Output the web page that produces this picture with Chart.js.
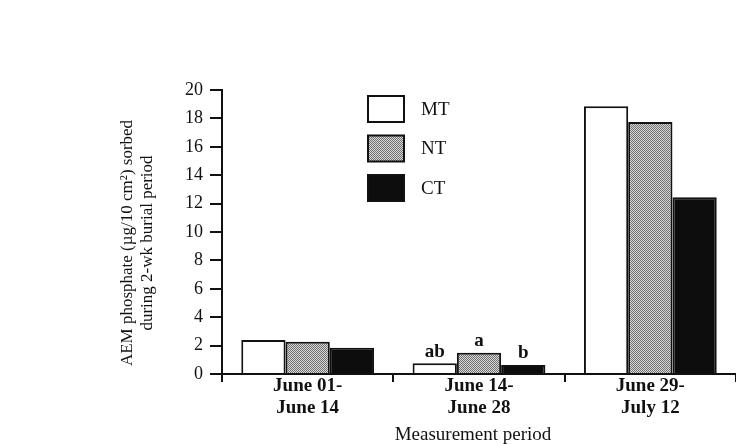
<!DOCTYPE html>
<html>
<head>
<meta charset="utf-8">
<script src="https://cdn.jsdelivr.net/npm/chart.js@4"></script>
<style>
  html, body { margin: 0; padding: 0; background: #fff; }
  #wrap { width: 736px; height: 444px; position: relative; }
</style>
</head>
<body>
<div id="wrap"><canvas id="phosphate"></canvas></div>
<script>
// measurement periods (two-line labels)
const periods = [
    ['June 01-', 'June 14'],
    ['June 14-', 'June 28'],
    ['June 29-', 'July 12']
];
const seriesNames = ['MT', 'NT', 'CT'];

// AEM phosphate, µg/10 cm2
const mtValues = [2.4, 0.75, 18.85];
const ntValues = [2.27, 1.5, 17.75];
const ctValues = [1.85, 0.63, 12.45];

// significance letters (only the second period)
const mtLetters = ['', 'ab', ''];
const ntLetters = ['', 'a', ''];
const ctLetters = ['', 'b', ''];

const yTicks = [0, 2, 4, 6, 8, 10, 12, 14, 16, 18, 20];
const yTitle = ['AEM phosphate (\u00b5g/10 cm\u00b2) sorbed', 'during 2-wk burial period'];
const xTitle = 'Measurement period';

const SERIF = "'Liberation Serif', 'Times New Roman', serif";

const ctx = document.getElementById('phosphate').getContext('2d');

// stippled gray fill for NT
const stipple = ctx.createPattern((() => {
    const c = document.createElement('canvas');
    c.width = 2; c.height = 2;
    const g = c.getContext('2d');
    g.fillStyle = '#d8d8d8';
    g.fillRect(0, 0, 2, 2);
    g.fillStyle = '#707070';
    g.fillRect(0, 0, 1, 1);
    g.fillRect(1, 1, 1, 1);
    return c;
})(), 'repeat');

// white background
const whiteBg = {
    id: 'whiteBg',
    beforeDraw(chart) {
        const { ctx, width, height } = chart;
        ctx.save();
        ctx.fillStyle = '#fff';
        ctx.fillRect(0, 0, width, height);
        ctx.restore();
    }
};

// axis titles, placed like the scan
const axisTitles = {
    id: 'axisTitles',
    afterDraw(chart) {
        const { ctx } = chart;
        ctx.save();
        ctx.fillStyle = '#111';
        ctx.textAlign = 'center';
        ctx.textBaseline = 'middle';
        ctx.font = '17px ' + SERIF;
        yTitle.forEach((line, i) => {
            ctx.save();
            ctx.translate(128 + i * 19.5, 243);
            ctx.rotate(-Math.PI / 2);
            ctx.fillText(line, 0, 0);
            ctx.restore();
        });
        ctx.font = '19px ' + SERIF;
        ctx.fillText(xTitle, 473, 435);
        ctx.restore();
    }
};

// legend boxes drawn inside the plot
const boxLegend = {
    id: 'boxLegend',
    afterDraw(chart) {
        const { ctx } = chart;
        ctx.save();
        chart.data.datasets.forEach((ds, i) => {
            const x = 368, y = 96 + i * 39.5, w = 36, h = 26;
            ctx.fillStyle = ds.backgroundColor;
            ctx.fillRect(x, y, w, h);
            ctx.lineWidth = 2;
            ctx.strokeStyle = '#111';
            ctx.strokeRect(x, y, w, h);
            ctx.fillStyle = '#111';
            ctx.font = '19px ' + SERIF;
            ctx.textBaseline = 'middle';
            ctx.fillText(ds.label, 421, y + h / 2 + 1);
        });
        ctx.restore();
    }
};

// letters above bars
const barLetters = {
    id: 'barLetters',
    afterDatasetsDraw(chart) {
        const { ctx } = chart;
        ctx.save();
        ctx.fillStyle = '#111';
        ctx.font = 'bold 19px ' + SERIF;
        ctx.textAlign = 'center';
        ctx.textBaseline = 'bottom';
        chart.data.datasets.forEach((ds, i) => {
            const meta = chart.getDatasetMeta(i);
            ds.letters.forEach((t, j) => {
                if (!t) return;
                const bar = meta.data[j];
                ctx.fillText(t, bar.x, bar.y - 2);
            });
        });
        ctx.restore();
    }
};

new Chart(ctx, {
    type: 'bar',
    plugins: [whiteBg, boxLegend, barLetters, axisTitles],
    data: {
        labels: periods,
        datasets: [
            { label: seriesNames[0], data: mtValues, letters: mtLetters, backgroundColor: '#ffffff' },
            { label: seriesNames[1], data: ntValues, letters: ntLetters, backgroundColor: stipple },
            { label: seriesNames[2], data: ctValues, letters: ctLetters, backgroundColor: '#0d0d0d' }
        ]
    },
    options: {
        responsive: true,
        maintainAspectRatio: false,
        animation: false,
        layout: { padding: { left: 108, top: 90, right: 0, bottom: 0 } },
        datasets: {
            bar: {
                borderColor: '#111',
                borderWidth: 2,
                categoryPercentage: 0.775,
                barPercentage: 1.0
            }
        },
        plugins: {
            legend: { display: false },
            tooltip: { enabled: false }
        },
        scales: {
            x: {
                afterFit: scale => { scale.height = 444 - 374; },
                border: { display: true, color: '#111', width: 2 },
                grid: {
                    offset: true,
                    drawOnChartArea: false,
                    color: '#111',
                    lineWidth: 2,
                    tickLength: 8
                },
                ticks: {
                    color: '#111',
                    padding: -7,
                    maxRotation: 0,
                    font: { family: SERIF, size: 19, weight: 'bold', lineHeight: 1.15 }
                }
            },
            y: {
                min: 0,
                max: 20,
                afterFit: scale => { scale.width = 222 - 108; },
                afterBuildTicks: scale => { scale.ticks = yTicks.map(v => ({ value: v })); },
                border: { display: true, color: '#111', width: 2 },
                grid: {
                    drawOnChartArea: false,
                    color: '#111',
                    lineWidth: 2,
                    tickLength: 12
                },
                ticks: {
                    color: '#111',
                    padding: 7,
                    font: { family: SERIF, size: 18 }
                }
            }
        }
    }
});
</script>
</body>
</html>
